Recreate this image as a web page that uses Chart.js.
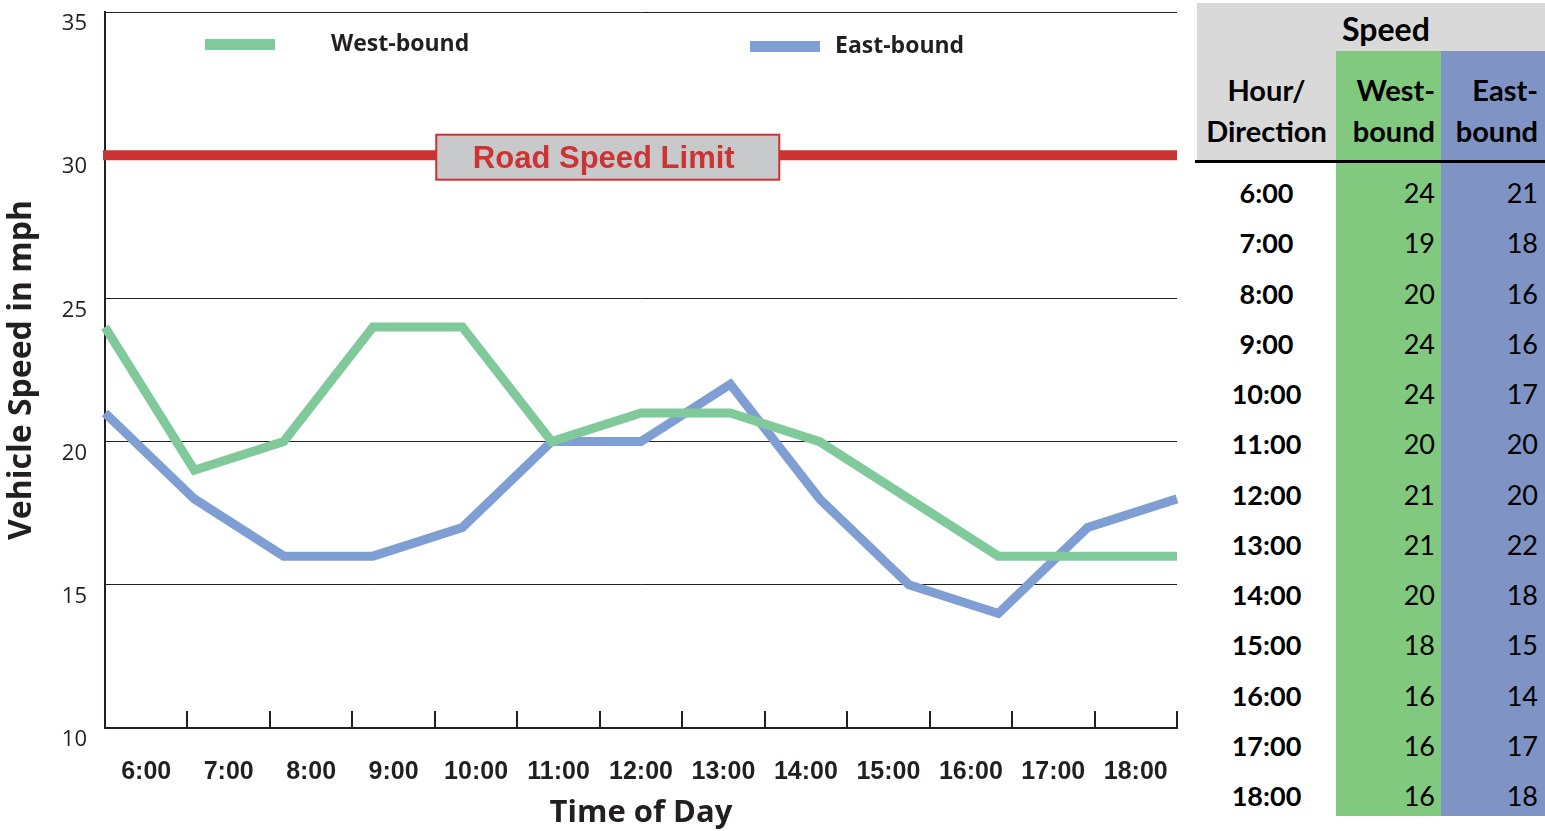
<!DOCTYPE html>
<html>
<head>
<meta charset="utf-8">
<script src="https://cdn.jsdelivr.net/npm/chart.js@4.4.1/dist/chart.umd.min.js"></script>
<style>
  body { margin: 0; background: #fff; width: 1545px; height: 831px; overflow: hidden; position: relative; }
  #wrap { position: absolute; left: 0; top: 0; width: 1190px; height: 831px; }
  #tbl { position: absolute; left: 1195px; top: 3px; width: 350px; height: 828px; font-family: Lato, "Open Sans", sans-serif; color: #000; }
  #tbl div { position: absolute; box-sizing: border-box; }
  .gray { background: #d9d9d9; }
  .green { background: #80c97f; }
  .blue { background: #7f93c4; }
  .hd { font-weight: bold; font-size: 29px; line-height: 41px; }
  .cell { font-size: 27px; height: 50px; line-height: 50px; }
</style>
</head>
<body>
<div id="wrap"><canvas id="speedChart" width="1190" height="831"></canvas></div>
<div id="tbl"></div>
<script>
// data dari tabel
const hours = ['6:00', '7:00', '8:00', '9:00', '10:00', '11:00', '12:00', '13:00', '14:00', '15:00', '16:00', '17:00', '18:00'];
const westBound = [24, 19, 20, 24, 24, 20, 21, 21, 20, 18, 16, 16, 16];
const eastBound = [21, 18, 16, 16, 17, 20, 20, 22, 18, 15, 14, 17, 18];
const yTicks = [10, 15, 20, 25, 30, 35];
const speedLimit = 30;
const speedLimitText = 'Road Speed Limit';

const ink = '#231f20';

// --- tabel di kanan ---
function buildTable() {
    const t = document.getElementById('tbl');
    let html = '';
    html += '<div class="gray" style="left:2px;top:0;width:348px;height:48px"></div>';
    html += '<div class="gray" style="left:2px;top:48px;width:139px;height:111px"></div>';
    html += '<div class="green" style="left:141px;top:48px;width:105px;height:765px"></div>';
    html += '<div class="blue" style="left:246px;top:48px;width:104px;height:765px"></div>';
    html += '<div style="left:0;top:157px;width:350px;height:3px;background:#000"></div>';
    html += '<div class="hd" style="left:136px;top:5px;width:110px;text-align:center;font-size:32px">Speed</div>';
    html += '<div class="hd" style="left:2px;top:66px;width:139px;text-align:center">Hour/<br>Direction</div>';
    html += '<div class="hd" style="left:141px;top:66px;width:105px;text-align:right;padding-right:6px">West-<br>bound</div>';
    html += '<div class="hd" style="left:246px;top:66px;width:104px;text-align:right;padding-right:7px">East-<br>bound</div>';
    hours.forEach((h, i) => {
        const top = 165 + i * 50.25;
        html += '<div class="cell" style="left:2px;top:' + top + 'px;width:139px;text-align:center;font-weight:bold">' + h + '</div>';
        html += '<div class="cell" style="left:141px;top:' + top + 'px;width:105px;text-align:right;padding-right:6px">' + westBound[i] + '</div>';
        html += '<div class="cell" style="left:246px;top:' + top + 'px;width:104px;text-align:right;padding-right:7px">' + eastBound[i] + '</div>';
    });
    t.innerHTML = html;
}
buildTable();

// plugin: garis batas kecepatan + legenda
const overlayPlugin = {
    id: 'overlay',
    afterDatasetsDraw(chart, args, opts) {
        const { ctx, chartArea: a, scales: { y } } = chart;
        const yl = y.getPixelForValue(speedLimit);
        ctx.save();
        ctx.strokeStyle = '#cc3333';
        ctx.lineWidth = 10;
        ctx.beginPath();
        ctx.moveTo(a.left - 2, yl);
        ctx.lineTo(a.right, yl);
        ctx.stroke();

        // kotak label
        const cx = a.left + (a.right - a.left) * opts.boxPos;
        const cy = yl + 2;
        const bw = 343, bh = 45;
        ctx.fillStyle = '#c8c9ca';
        ctx.fillRect(cx - bw / 2, cy - bh / 2, bw, bh);
        ctx.lineWidth = 2;
        ctx.strokeStyle = '#d03030';
        ctx.strokeRect(cx - bw / 2, cy - bh / 2, bw, bh);
        ctx.fillStyle = '#cc3333';
        ctx.font = 'bold 31px "Liberation Sans", Arial, sans-serif';
        ctx.textAlign = 'center';
        ctx.textBaseline = 'middle';
        ctx.fillText(speedLimitText, cx - 4, cy + 2);

        // legenda
        chart.data.datasets.forEach((ds, i) => {
            const it = opts.legend[i];
            ctx.fillStyle = ds.borderColor;
            ctx.fillRect(it.sx, it.y - 5, 70, 11);
            ctx.fillStyle = ink;
            ctx.font = 'bold 23px "Open Sans", sans-serif';
            ctx.textAlign = 'left';
            ctx.fillText(ds.label, it.tx, it.y);
        });
        ctx.restore();
    }
};

const ctx = document.getElementById('speedChart').getContext('2d');
const speedChart = new Chart(ctx, {
    type: 'line',
    data: {
        labels: hours,
        datasets: [
            { label: 'West-bound', data: westBound, xAxisID: 'xp', borderColor: '#80c99b', borderWidth: 9, pointRadius: 0, tension: 0, borderJoinStyle: 'miter', fill: false },
            { label: 'East-bound', data: eastBound, xAxisID: 'xp', borderColor: '#7f9fd4', borderWidth: 9, pointRadius: 0, tension: 0, borderJoinStyle: 'miter', fill: false }
        ]
    },
    options: {
        responsive: false,
        animation: false,
        layout: { padding: { top: 12, right: 13, left: 0, bottom: 0 } },
        plugins: {
            legend: { display: false },
            tooltip: { enabled: false },
            overlay: {
                boxPos: 0.469,
                legend: [{ sx: 205, tx: 331, y: 44 }, { sx: 750, tx: 835, y: 46 }]
            }
        },
        scales: {
            x: {
                type: 'category',
                offset: true,
                grid: { offset: true, drawOnChartArea: false, drawTicks: true, tickLength: -17, color: ink, lineWidth: 2 },
                border: { color: ink, width: 2 },
                ticks: { font: { family: 'Liberation Sans', weight: 'bold', size: 25 }, color: ink, padding: 46, maxRotation: 0, autoSkip: false },
                title: { display: true, text: 'Time of Day', font: { family: 'Open Sans', weight: 'bold', size: 31, lineHeight: 1.15 }, color: ink, padding: { top: 0, bottom: 0 } },
                afterFit(s) { s.height = 103; s.paddingLeft = 0; s.paddingRight = 0; }
            },
            xp: { type: 'category', display: false, offset: false },
            y: {
                min: 10,
                max: 35,
                afterBuildTicks(s) { s.ticks = yTicks.map(v => ({ value: v })); },
                ticks: { labelOffset: 12, padding: 18, font: { family: 'Open Sans', size: 22 }, color: ink },
                grid: {
                    drawTicks: false,
                    lineWidth: 1,
                    color: c => (c.tick && c.tick.value === speedLimit) ? 'rgba(0,0,0,0)' : ink
                },
                border: { color: ink, width: 2 },
                title: { display: true, text: 'Vehicle Speed in mph', font: { family: 'Open Sans', weight: 'bold', size: 32 }, color: ink, padding: { top: 3, bottom: 0 } },
                afterFit(s) { s.width = 105; s.paddingTop = 0; s.paddingBottom = 0; }
            }
        }
    },
    plugins: [overlayPlugin]
});
</script>
</body>
</html>
